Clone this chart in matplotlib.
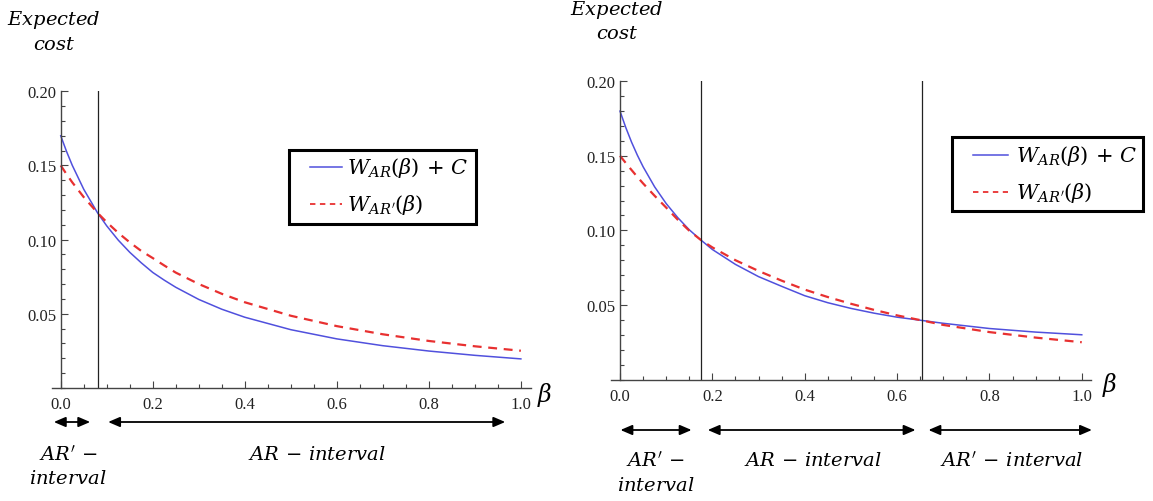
import numpy as np
import matplotlib
matplotlib.use("Agg")
import matplotlib.pyplot as plt
from matplotlib.ticker import MultipleLocator, FixedLocator, FormatStrFormatter
from matplotlib.lines import Line2D
from matplotlib.patches import Rectangle
import matplotlib.transforms as mtransforms

plt.rcParams["mathtext.fontset"] = "dejavuserif"
plt.rcParams["font.family"] = ["Liberation Serif", "DejaVu Serif"]

# ---- left panel: one switching point ----
beta_left = [0.0, 0.0125, 0.025, 0.05, 0.08, 0.1, 0.125, 0.15, 0.175, 0.2,
             0.225, 0.25, 0.3, 0.35, 0.4, 0.5, 0.6, 0.7, 0.8, 0.9, 1.0]
w_ar_left = [0.170, 0.1595, 0.1501, 0.1339, 0.118, 0.1092, 0.0996, 0.0914,
             0.0843, 0.0778, 0.0726, 0.0678, 0.0596, 0.0530, 0.0476, 0.0392,
             0.0330, 0.0284, 0.0248, 0.0219, 0.0195]
w_arp_left = [0.150, 0.1441, 0.1386, 0.1286, 0.118, 0.1117, 0.1045, 0.0981,
              0.0923, 0.0875, 0.0825, 0.0777, 0.0700, 0.0634, 0.0577, 0.0486,
              0.0416, 0.0361, 0.0316, 0.0280, 0.0250]
cuts_left = [0.08]

# ---- right panel: two switching points ----
beta_right = [0.0, 0.0125, 0.025, 0.0375, 0.05, 0.075, 0.1, 0.125, 0.15,
              0.175, 0.2, 0.25, 0.3, 0.35, 0.4, 0.45, 0.5, 0.55, 0.6, 0.654,
              0.7, 0.8, 0.9, 1.0]
w_ar_right = [0.180, 0.1690, 0.1592, 0.1505, 0.1427, 0.1292, 0.1180, 0.1086,
              0.1004, 0.0936, 0.0872, 0.0772, 0.0690, 0.0625, 0.0562, 0.0515,
              0.0477, 0.0445, 0.0418, 0.0396, 0.0377, 0.0342, 0.0318, 0.0300]
w_arp_right = [0.150, 0.1452, 0.1405, 0.1359, 0.1315, 0.1232, 0.1153, 0.1072,
               0.0998, 0.0936, 0.0886, 0.0800, 0.0728, 0.0663, 0.0603, 0.0553,
               0.0508, 0.0467, 0.0430, 0.0396, 0.0366, 0.0318, 0.0281, 0.0250]
cuts_right = [0.175, 0.654]

x_ticks = [0.0, 0.2, 0.4, 0.6, 0.8, 1.0]
y_ticks = [0.05, 0.10, 0.15, 0.20]

label_ar = r"$W_{AR}(\beta)\,+\,C$"
label_arp = r"$W_{AR'}(\beta)$"

BLUE = "#5050dd"
RED = "#e83030"
AXC = "#444444"
DASH = (0, (4, 3))

W, H = 1153, 502
fig = plt.figure(figsize=(W / 100, H / 100), dpi=100)


def fx(px):
    return px / W


def fy(py):
    return 1 - py / H


def px_box(x0, x1, y_top, y_bot):
    return [x0 / W, 1 - y_bot / H, (x1 - x0) / W, (y_bot - y_top) / H]


def style_axes(ax, xlim):
    ax.set_xlim(*xlim)
    ax.set_ylim(0, 0.2)
    for s in ("top", "right"):
        ax.spines[s].set_visible(False)
    ax.spines["left"].set_position(("data", 0))
    ax.spines["bottom"].set_position(("data", 0))
    for s in ("left", "bottom"):
        ax.spines[s].set_color(AXC)
        ax.spines[s].set_linewidth(1.0)
    ax.xaxis.set_major_locator(FixedLocator(x_ticks))
    ax.xaxis.set_minor_locator(MultipleLocator(0.05))
    ax.yaxis.set_major_locator(FixedLocator(y_ticks))
    ax.yaxis.set_minor_locator(MultipleLocator(0.01))
    ax.xaxis.set_major_formatter(FormatStrFormatter("%.1f"))
    ax.yaxis.set_major_formatter(FormatStrFormatter("%.2f"))
    ax.tick_params(which="both", direction="in", color=AXC, width=0.8,
                   labelsize=12, labelcolor="#222222")
    ax.tick_params(which="major", length=5)
    ax.tick_params(which="minor", length=3)
    ax.tick_params(axis="x", pad=6)
    ax.tick_params(axis="y", pad=3)
    ax.patch.set_alpha(0)


def draw_panel(ax, beta, w_ar, w_arp, cuts):
    ax.plot(beta, w_ar, color=BLUE, lw=1.1, label=label_ar, clip_on=False)
    ax.plot(beta, w_arp, color=RED, lw=1.6, ls=DASH, label=label_arp,
            clip_on=False)
    for c in cuts:
        ax.axvline(c, ymin=0, ymax=1, color="#222222", lw=0.9)


def draw_key(box, h0, h1, tx, rows):
    x0, y0, x1, y1 = box
    fig.add_artist(Rectangle((fx(x0), fy(y1)), fx(x1) - fx(x0),
                             fy(y0) - fy(y1), transform=fig.transFigure,
                             facecolor="white", edgecolor="black", lw=2.2,
                             zorder=5))
    styles = [dict(color=BLUE, lw=1.1), dict(color=RED, lw=1.3, ls=(0, (3, 2.5)))]
    for (ry, label), st in zip(zip(rows, [label_ar, label_arp]), styles):
        fig.add_artist(Line2D([fx(h0), fx(h1)], [fy(ry), fy(ry)],
                              transform=fig.transFigure, zorder=6, **st))
        fig.text(fx(tx), fy(ry), label, ha="left", va="center", fontsize=15,
                 zorder=6)


# left panel
axL = fig.add_axes(px_box(52, 531, 92.3, 388.8))
style_axes(axL, (-0.019, 1.022))
draw_panel(axL, beta_left, w_ar_left, w_arp_left, cuts_left)

# right panel
axR = fig.add_axes(px_box(611, 1091, 82.3, 380.5))
style_axes(axR, (-0.0195, 1.02))
draw_panel(axR, beta_right, w_ar_right, w_arp_right, cuts_right)

# keys
draw_key((289, 151, 476, 225), 310, 342, 347, (168, 205))
draw_key((952, 138, 1143, 212), 973, 1008, 1016, (156, 193))

# y axis captions
for cx, cy in ((54, 20), (617, 10)):
    fig.text(fx(cx), fy(cy), r"$Expected$", ha="center", va="center",
             fontsize=14)
    fig.text(fx(cx), fy(cy + 25), r"$cost$", ha="center", va="center",
             fontsize=14)

# x axis symbols
fig.text(fx(545), fy(395), r"$\beta$", ha="center", va="center", fontsize=17)
fig.text(fx(1110), fy(385), r"$\beta$", ha="center", va="center", fontsize=17)


def interval_arrow(ax, x0, x1, y_px):
    trans = mtransforms.blended_transform_factory(ax.transData,
                                                  fig.transFigure)
    y = fy(y_px)
    ax.annotate("", xy=(x1, y), xycoords=trans, xytext=(x0, y),
                textcoords=trans,
                arrowprops=dict(arrowstyle="<|-|>,head_length=0.7,head_width=0.3",
                                color="black", lw=1.3, shrinkA=0, shrinkB=0),
                annotation_clip=False)


def interval_text(ax, xc, y_px, s):
    trans = mtransforms.blended_transform_factory(ax.transData,
                                                  fig.transFigure)
    ax.text(xc, fy(y_px), s, transform=trans, ha="center", va="center",
            fontsize=14, clip_on=False)


# left interval arrows
interval_arrow(axL, -0.015, cuts_left[0] - 0.016, 423)
interval_arrow(axL, cuts_left[0] + 0.023, 0.966, 423)
interval_text(axL, 0.016, 455, r"$AR'\,-$")
interval_text(axL, 0.016, 479, r"$interval$")
interval_text(axL, 0.556, 455, r"$AR\,-\,interval$")

# right interval arrows
interval_arrow(axR, 0.001, cuts_right[0] - 0.02, 431)
interval_arrow(axR, cuts_right[0] + 0.015, cuts_right[1] - 0.014, 431)
interval_arrow(axR, cuts_right[1] + 0.014, 1.022, 431)
interval_text(axR, 0.077, 461, r"$AR'\,-$")
interval_text(axR, 0.077, 486, r"$interval$")
interval_text(axR, 0.418, 461, r"$AR\,-\,interval$")
interval_text(axR, 0.848, 461, r"$AR'\,-\,interval$")

fig.savefig("out.png", dpi=100)
